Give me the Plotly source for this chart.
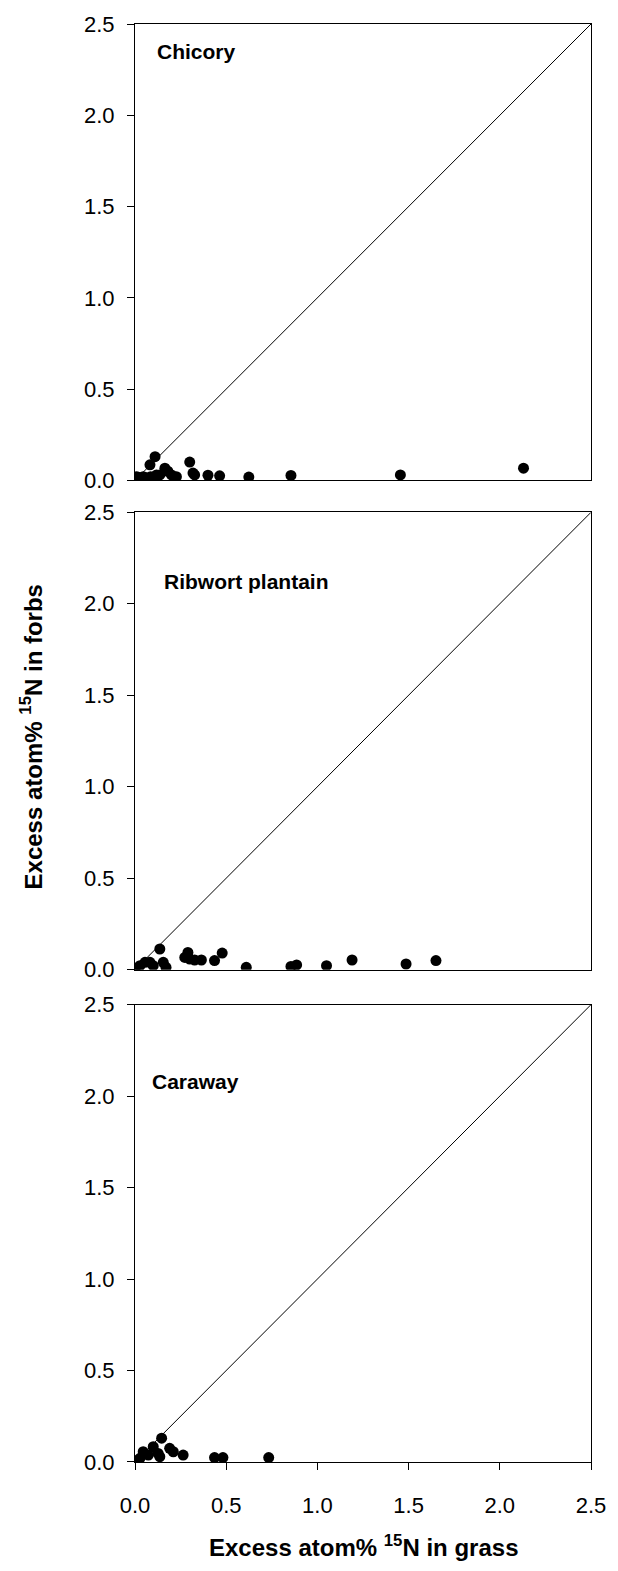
import plotly.graph_objects as go

# ---- data ----
chicory_grass = [0.01, 0.018, 0.045, 0.055, 0.082, 0.086, 0.11, 0.118, 0.136, 0.164, 0.18, 0.2, 0.227,
                 0.3, 0.318, 0.327, 0.4, 0.464, 0.624, 0.855, 1.455, 2.13]
chicory_forbs = [0.02, 0.016, 0.02, 0.016, 0.085, 0.02, 0.13, 0.03, 0.03, 0.067, 0.05, 0.03, 0.02,
                 0.1, 0.04, 0.03, 0.028, 0.025, 0.018, 0.027, 0.03, 0.067]

ribwort_grass = [0.0, 0.027, 0.055, 0.082, 0.1, 0.136, 0.155, 0.17, 0.273, 0.29, 0.3, 0.327, 0.364,
                 0.436, 0.478, 0.61, 0.855, 0.886, 1.05, 1.19, 1.486, 1.65]
ribwort_forbs = [0.004, 0.022, 0.04, 0.04, 0.022, 0.113, 0.04, 0.013, 0.067, 0.094, 0.058, 0.053, 0.053,
                 0.05, 0.091, 0.013, 0.018, 0.026, 0.022, 0.053, 0.031, 0.05]

caraway_grass = [0.018, 0.027, 0.045, 0.073, 0.1, 0.127, 0.136, 0.146, 0.19, 0.21, 0.264, 0.436, 0.482, 0.733]
caraway_forbs = [0.01, 0.02, 0.056, 0.038, 0.084, 0.047, 0.029, 0.13, 0.075, 0.056, 0.038, 0.024, 0.024, 0.024]

panel_names = ["Chicory", "Ribwort plantain", "Caraway"]
identity_line = [0.0, 2.5]
tick_vals = [0.0, 0.5, 1.0, 1.5, 2.0, 2.5]
tick_text = ["0.0", "0.5", "1.0", "1.5", "2.0", "2.5"]

series = [(chicory_grass, chicory_forbs), (ribwort_grass, ribwort_forbs), (caraway_grass, caraway_forbs)]

W, H = 618, 1571
ML, MR, MT, MB = 135, 25, 22, 109
plot_h = H - MT - MB
plot_w = W - ML - MR
panel_px = [(22, 479), (511, 969), (1004, 1462)]
domains = [[(H - MB - b) / plot_h, (H - MB - t) / plot_h] for (t, b) in panel_px]
label_px = [(155, 50), (162, 580), (150, 1081)]


def px_x(px):
    return (px - ML) / plot_w


def px_y(py):
    return (H - MB - py) / plot_h


fig = go.Figure()
FONT = "Liberation Sans, Arial, sans-serif"

for i, ((gx, fy), name) in enumerate(zip(series, panel_names)):
    k = "" if i == 0 else str(i + 1)
    fig.add_trace(go.Scatter(x=identity_line, y=identity_line, mode="lines",
                             line=dict(color="black", width=1), xaxis="x" + k, yaxis="y" + k,
                             showlegend=False, hoverinfo="skip"))
    fig.add_trace(go.Scatter(x=gx, y=fy, mode="markers",
                             marker=dict(color="black", size=11, line=dict(width=0)),
                             xaxis="x" + k, yaxis="y" + k, showlegend=False, name=name))
    last = (i == 2)
    fig.layout["xaxis" + k] = dict(
        domain=[0, 1], range=[0, 2.5], anchor="y" + k,
        showline=True, linecolor="black", linewidth=1, mirror=True,
        showgrid=False, zeroline=False,
        ticks="outside" if last else "", ticklen=7, tickcolor="black",
        tickvals=tick_vals, ticktext=tick_text, showticklabels=last,
        ticklabelstandoff=17,
        tickfont=dict(family=FONT, size=22, color="black"),
    )
    fig.layout["yaxis" + k] = dict(
        domain=domains[i], range=[0, 2.5], anchor="x" + k,
        showline=True, linecolor="black", linewidth=1, mirror=True,
        showgrid=False, zeroline=False,
        ticks="outside", ticklen=7, tickcolor="black",
        tickvals=tick_vals, ticktext=tick_text,
        ticklabelstandoff=8,
        tickfont=dict(family=FONT, size=22, color="black"),
    )
    lx, ly = label_px[i]
    fig.add_annotation(text="<b>" + name + "</b>", xref="paper", yref="paper",
                       x=px_x(lx), y=px_y(ly), xanchor="left", yanchor="middle",
                       showarrow=False, font=dict(family=FONT, size=21, color="black"))

fig.add_annotation(text="<b>Excess atom% <sup>15</sup>N in grass</b>", xref="paper", yref="paper",
                   x=px_x(365), y=px_y(1546),
                   xanchor="center", yanchor="middle", showarrow=False,
                   font=dict(family=FONT, size=24, color="black"))
fig.add_annotation(text="<b>Excess atom% <sup>15</sup>N in forbs</b>", xref="paper", yref="paper",
                   x=px_x(31), y=px_y(736), textangle=-90,
                   xanchor="center", yanchor="middle", showarrow=False,
                   font=dict(family=FONT, size=24, color="black"))

fig.update_layout(width=W, height=H, margin=dict(l=ML, r=MR, t=MT, b=MB),
                  plot_bgcolor="white", paper_bgcolor="white", showlegend=False)

fig.write_html("out.html")
